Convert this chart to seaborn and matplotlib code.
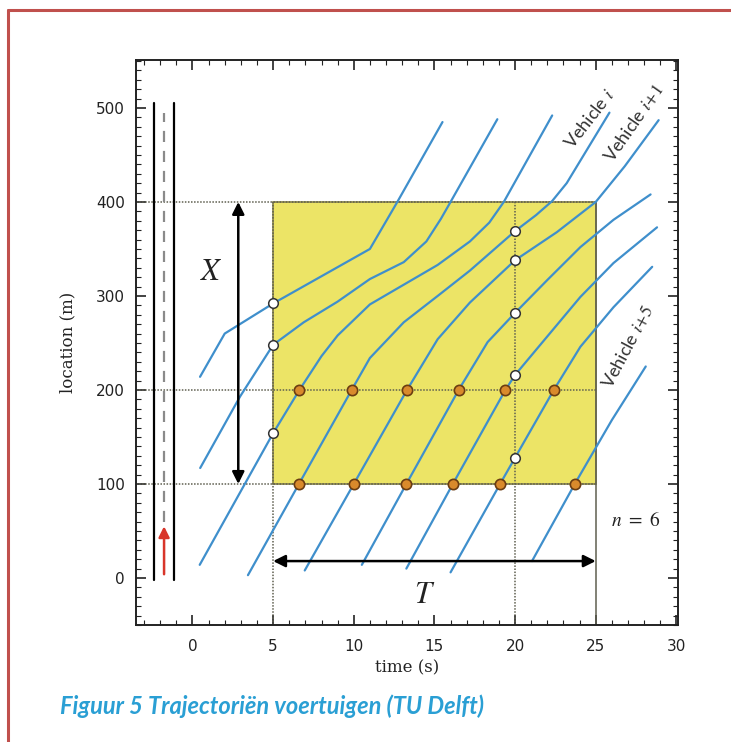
import matplotlib
matplotlib.use("Agg")
import numpy as np
import pandas as pd
import matplotlib.pyplot as plt
import seaborn as sns
from matplotlib.ticker import MultipleLocator
from matplotlib.lines import Line2D
from matplotlib.patches import Rectangle

# ---------------- data ----------------
veh1_t = [0.47, 2.0, 5.0, 11.0, 12.7, 15.5]
veh1_x = [214, 260, 292, 350, 400, 485]
veh2_t = [0.48, 2.95, 5.0, 6.9, 9.0, 11.0, 13.1, 14.5, 15.4, 16.0, 18.9]
veh2_x = [117, 193, 248, 272, 294, 318, 336, 358, 382, 400, 488]
veh3_t = [0.45, 5.0, 6.63, 8.0, 9.0, 11.0, 13.1, 15.2, 17.2, 18.4, 19.3, 22.3]
veh3_x = [14, 154, 200, 236, 258, 291, 312, 333, 358, 378, 400, 492]
veh4_t = [3.44, 6.6, 9.87, 11.0, 13.1, 15.2, 17.2, 20.0, 21.3, 22.3, 23.2, 25.85]
veh4_x = [3, 100, 200, 234, 272, 300, 327, 369, 386, 401, 420, 495]
veh5_t = [6.96, 10.0, 13.3, 15.2, 17.2, 20.0, 22.6, 25.0, 26.8, 28.9]
veh5_x = [8, 100, 200, 254, 293, 338, 368, 400, 438, 487]
veh6_t = [10.5, 13.26, 16.5, 18.3, 20.0, 22.0, 24.05, 26.1, 28.4]
veh6_x = [14, 100, 200, 251, 282, 317, 352, 381, 408]
veh7_t = [13.26, 16.14, 19.4, 20.0, 22.0, 24.05, 26.1, 28.8]
veh7_x = [10, 100, 200, 216, 257, 299, 335, 373]
veh8_t = [16.0, 19.07, 20.0, 22.4, 24.05, 26.1, 28.5]
veh8_x = [6, 100, 128, 200, 246, 288, 331]
veh9_t = [21.05, 23.7, 26.0, 28.1]
veh9_x = [18, 100, 168, 225]

# white (open) observation circles
white_t = [5, 5, 5, 20, 20, 20, 20, 20]
white_x = [292, 248, 154, 369, 338, 282, 216, 128]
# orange crossing circles at x = 100 m and x = 200 m
orange100_t = [6.6, 10.0, 13.26, 16.14, 19.07, 23.7]
orange200_t = [6.63, 9.87, 13.3, 16.5, 19.4, 22.4]

box_t = [5, 25]
box_x = [100, 400]
ref_locs = [100, 200, 400]
ref_times = [5, 20, 25]

xticks = [0, 5, 10, 15, 20, 25, 30]
yticks = [0, 100, 200, 300, 400, 500]

vehicle_labels = ["Vehicle $i$", "Vehicle $i\\!+\\!1$", "Vehicle $i\\!+\\!5$"]
vehicle_label_t = [24.6, 27.4, 27.0]
vehicle_label_x = [488, 484, 246]
vehicle_label_rot = [52, 55, 62]

caption = "Figuur 5 Trajectoriën voertuigen (TU Delft)"

# ---------------- style ----------------
sns.set_style("ticks")
plt.rcParams["font.family"] = ["DejaVu Sans"]
plt.rcParams["mathtext.fontset"] = "stix"

BLUE = "#3f8fcc"
fig = plt.figure(figsize=(7.31, 7.42), dpi=100)
fig.patch.set_facecolor("white")
ax = fig.add_axes([136 / 731, 1 - 625 / 742, (678 - 136) / 731, (625 - 60) / 742])

# yellow box
ax.add_patch(Rectangle((box_t[0], box_x[0]), box_t[1] - box_t[0], box_x[1] - box_x[0],
                       facecolor="#ece466", edgecolor="#8a8546", lw=1.2, zorder=1))

# reference lines
xmin, xmax = -3.5, 30.1
ymin, ymax = -50, 551
for y in ref_locs:
    ax.plot([xmin, box_t[1]], [y, y], color="#5f5f50", lw=1.1, ls=(0, (1, 1)), zorder=2)
for t in ref_times:
    ax.plot([t, t], [ymin, box_x[1]], color="#5f5f50", lw=1.1,
            ls="-" if t == 25 else (0, (1, 1)), zorder=2)

# trajectories
traj = [(veh1_t, veh1_x), (veh2_t, veh2_x), (veh3_t, veh3_x), (veh4_t, veh4_x),
        (veh5_t, veh5_x), (veh6_t, veh6_x), (veh7_t, veh7_x), (veh8_t, veh8_x),
        (veh9_t, veh9_x)]
frames = []
for k, (ts, xs) in enumerate(traj):
    frames.append(pd.DataFrame({"time": ts, "location": xs, "vehicle": f"v{k + 1}"}))
df = pd.concat(frames, ignore_index=True)
sns.lineplot(data=df, x="time", y="location", hue="vehicle",
             palette={f"v{k + 1}": BLUE for k in range(len(traj))},
             sort=False, estimator=None, legend=False, lw=1.6, ax=ax, zorder=3)

# circles
sns.scatterplot(x=orange100_t + orange200_t,
                y=[100] * len(orange100_t) + [200] * len(orange200_t),
                s=55, color="#d98a2c", edgecolor="#6b3d12", linewidth=1.2, zorder=6, ax=ax)
sns.scatterplot(x=white_t, y=white_x, s=48, color="white", edgecolor="#333333",
                linewidth=1.1, zorder=6, ax=ax)

# road drawing on the left
for t in [-2.38, -1.14]:
    ax.plot([t, t], [-2, 505], color="black", lw=1.6, zorder=3)
ax.plot([-1.76, -1.76], [60, 495], color="#8a8a8a", lw=1.6, ls=(0, (5, 4)), zorder=3)
ax.annotate("", xy=(-1.76, 55), xytext=(-1.76, 4),
            arrowprops=dict(arrowstyle="-|>", color="#d8352a", lw=1.8, mutation_scale=16,
                            shrinkA=0, shrinkB=0), zorder=4)

# X and T arrows
ax.annotate("", xy=(2.84, 400), xytext=(2.84, 100),
            arrowprops=dict(arrowstyle="<|-|>", color="black", lw=1.8, mutation_scale=18,
                            shrinkA=0, shrinkB=0), zorder=4)
ax.annotate("", xy=(25, 18), xytext=(5, 18),
            arrowprops=dict(arrowstyle="<|-|>", color="black", lw=1.8, mutation_scale=18,
                            shrinkA=0, shrinkB=0), zorder=4)
ax.text(1.2, 326, "$X$", fontsize=22, ha="center", va="center", color="#222222")
ax.text(14.4, -18, "$T$", fontsize=22, ha="center", va="center", color="#222222")
ax.text(27.45, 61, "$n\\ =\\ 6$", fontsize=14, ha="center", va="center", color="#222222")

for lab, t, x, r in zip(vehicle_labels, vehicle_label_t, vehicle_label_x, vehicle_label_rot):
    ax.text(t, x, lab, rotation=r, fontsize=13, ha="center", va="center", color="#333333",
            family=["Lato", "DejaVu Sans"], rotation_mode="anchor")

# axes
ax.set_xlim(xmin, xmax)
ax.set_ylim(ymin, ymax)
ax.set_xticks(xticks)
ax.set_yticks(yticks)
ax.xaxis.set_minor_locator(MultipleLocator(1))
ax.yaxis.set_minor_locator(MultipleLocator(10))
ax.tick_params(which="both", direction="in", top=True, right=True, colors="#222222")
ax.tick_params(which="major", length=7, width=1.2, labelsize=11, pad=10)
ax.tick_params(which="minor", length=3.5, width=0.8)
ax.tick_params(axis="y", which="major", pad=8)
for s in ax.spines.values():
    s.set_linewidth(1.4)
    s.set_color("#222222")
ax.set_xlabel("time (s)", fontsize=12, family=["DejaVu Serif"], color="#222222", labelpad=4)
ax.set_ylabel("location (m)", fontsize=12, family=["DejaVu Serif"], color="#222222", labelpad=14)
ax.set_facecolor("white")

# page frame and caption
RED = "#c0504d"
fig.add_artist(Line2D([8 / 731, 1], [1 - 10 / 742] * 2, color=RED, lw=2.2))
fig.add_artist(Line2D([8 / 731] * 2, [0, 1 - 10 / 742], color=RED, lw=2.2))
fig.text(60 / 731, 1 - 706 / 742, caption, fontsize=17, color="#2a9fd4",
         family=["Lato", "DejaVu Sans"], style="italic", weight="bold", va="center", ha="left")

fig.savefig("out.png", dpi=100)
